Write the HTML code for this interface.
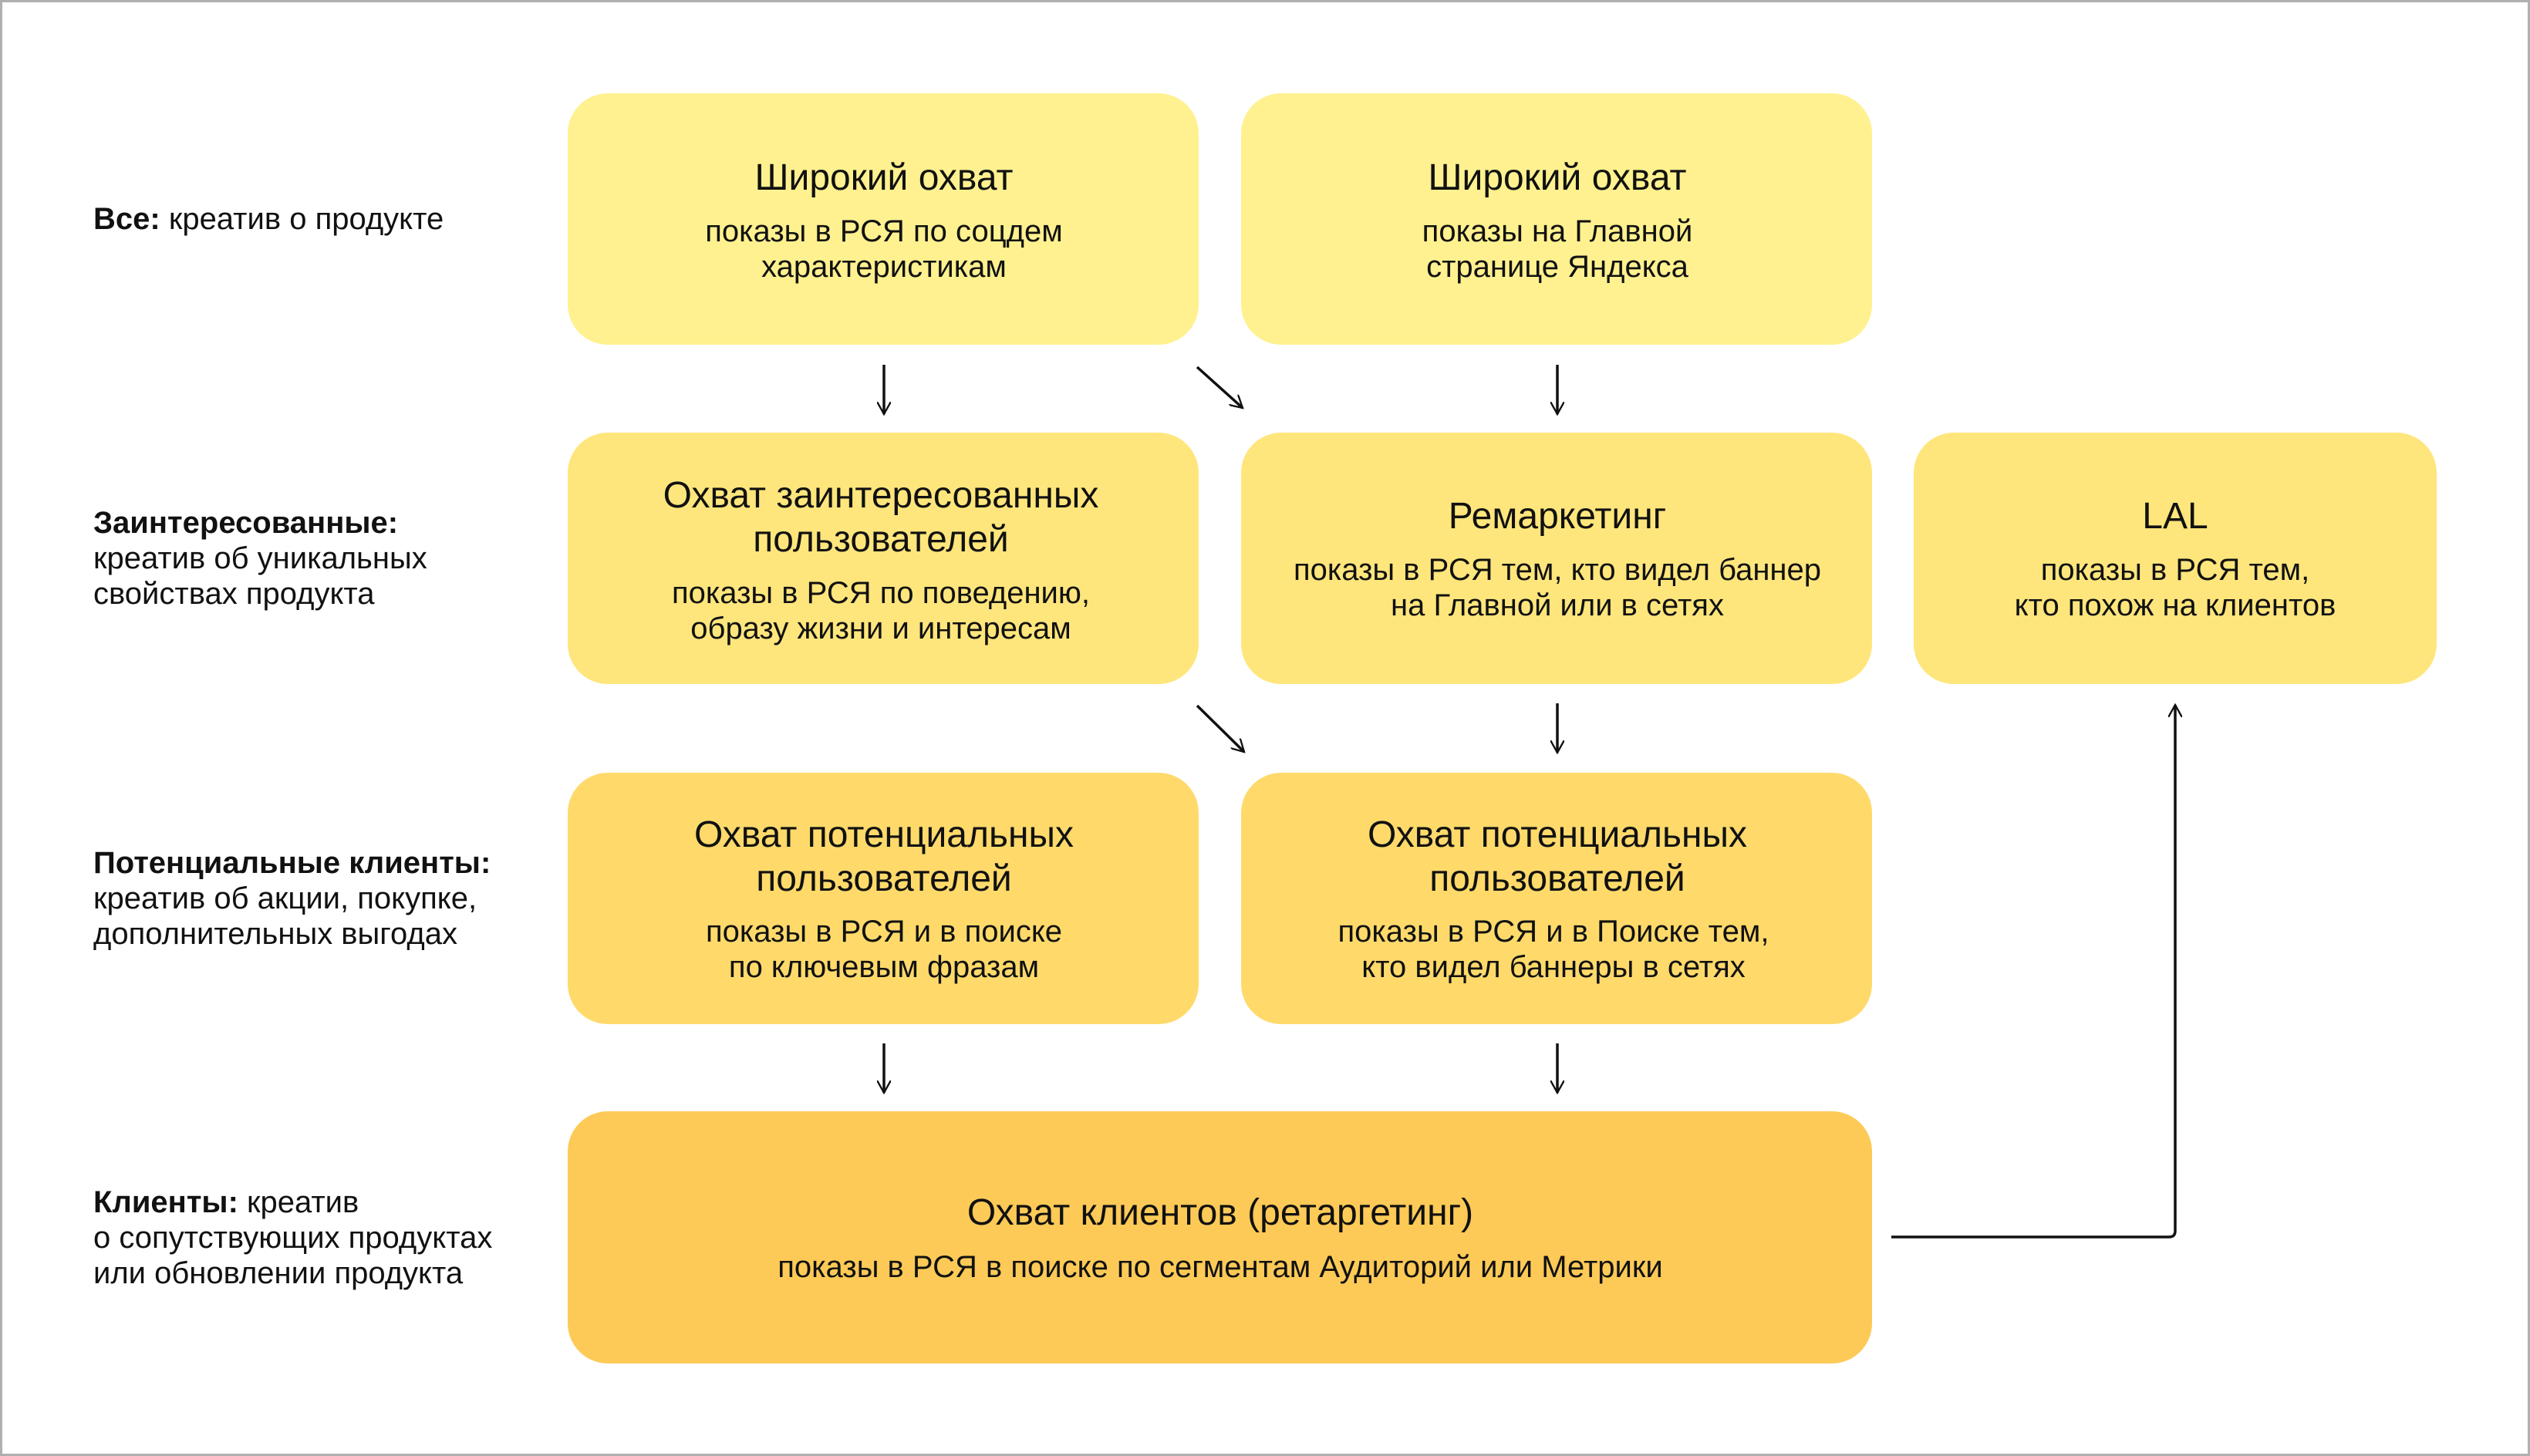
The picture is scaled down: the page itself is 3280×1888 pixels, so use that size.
<!DOCTYPE html>
<html><head><meta charset="utf-8"><style>
html,body{margin:0;padding:0;background:#fff}
svg{display:block}
text{font-family:"Liberation Sans",Arial,sans-serif;fill:#111}
.t{font-size:48px;text-anchor:middle}
.s{font-size:40px;text-anchor:middle}
.l{font-size:40px}
.b{font-weight:bold}
</style></head><body>
<svg width="3280" height="1888" viewBox="0 0 3280 1888" xmlns="http://www.w3.org/2000/svg">
<rect x="1.5" y="1.5" width="3277" height="1885" fill="#fff" stroke="#b0b0b0" stroke-width="3"/>
<defs><marker id="ah" viewBox="0 0 10 10" refX="9" refY="5" markerWidth="18" markerHeight="18" markerUnits="userSpaceOnUse" orient="auto"><path d="M0,0 L9,5 L0,10" fill="none" stroke="#111" stroke-width="1.3"/></marker></defs>

<rect x="736" y="121" width="818" height="326" rx="52" fill="#FFF18F"/>
<rect x="1609" y="121" width="818" height="326" rx="52" fill="#FFF18F"/>
<rect x="736" y="561" width="818" height="326" rx="52" fill="#FFE67C"/>
<rect x="1609" y="561" width="818" height="326" rx="52" fill="#FFE67C"/>
<rect x="2481" y="561" width="678" height="326" rx="52" fill="#FFE67C"/>
<rect x="736" y="1002" width="818" height="326" rx="52" fill="#FFDA6B"/>
<rect x="1609" y="1002" width="818" height="326" rx="52" fill="#FFDA6B"/>
<rect x="736" y="1441" width="1691" height="327" rx="52" fill="#FDCA57"/>

<g stroke="#111" stroke-width="3.5" fill="none" marker-end="url(#ah)">
<line x1="1146" y1="473" x2="1146" y2="537"/>
<line x1="2019" y1="473" x2="2019" y2="537"/>
<line x1="1552" y1="476" x2="1611" y2="529"/>
<line x1="1552" y1="915" x2="1613" y2="975"/>
<line x1="2019" y1="912" x2="2019" y2="976"/>
<line x1="1146" y1="1353" x2="1146" y2="1417"/>
<line x1="2019" y1="1353" x2="2019" y2="1417"/>
<path d="M2452,1604 H2812 Q2820,1604 2820,1596 V914"/>
</g>

<text class="t" x="1146" y="246">Широкий охват</text>
<text class="s" x="1146" y="313">показы в РСЯ по соцдем</text>
<text class="s" x="1146" y="359">характеристикам</text>

<text class="t" x="2019" y="246">Широкий охват</text>
<text class="s" x="2019" y="313">показы на Главной</text>
<text class="s" x="2019" y="359">странице Яндекса</text>

<text class="t" x="1142" y="658">Охват заинтересованных</text>
<text class="t" x="1142" y="715">пользователей</text>
<text class="s" x="1142" y="782">показы в РСЯ по поведению,</text>
<text class="s" x="1142" y="828">образу жизни и интересам</text>

<text class="t" x="2019" y="685">Ремаркетинг</text>
<text class="s" x="2019" y="752">показы в РСЯ тем, кто видел баннер</text>
<text class="s" x="2019" y="798">на Главной или в сетях</text>

<text class="t" x="2820" y="685">LAL</text>
<text class="s" x="2820" y="752">показы в РСЯ тем,</text>
<text class="s" x="2820" y="798">кто похож на клиентов</text>

<text class="t" x="1146" y="1098">Охват потенциальных</text>
<text class="t" x="1146" y="1155">пользователей</text>
<text class="s" x="1146" y="1221">показы в РСЯ и в поиске</text>
<text class="s" x="1146" y="1267">по ключевым фразам</text>

<text class="t" x="2019" y="1098">Охват потенциальных</text>
<text class="t" x="2019" y="1155">пользователей</text>
<text class="s" x="2014" y="1221">показы в РСЯ и  в Поиске тем,</text>
<text class="s" x="2014" y="1267">кто видел баннеры в сетях</text>

<text class="t" x="1582" y="1588">Охват клиентов (ретаргетинг)</text>
<text class="s" x="1582" y="1656">показы в РСЯ  в поиске по сегментам Аудиторий или Метрики</text>

<text class="l" x="121" y="297"><tspan class="b">Все:</tspan> креатив о продукте</text>
<text class="l" x="121" y="691"><tspan class="b">Заинтересованные:</tspan></text>
<text class="l" x="121" y="737">креатив об уникальных</text>
<text class="l" x="121" y="783">свойствах продукта</text>
<text class="l" x="121" y="1132"><tspan class="b">Потенциальные клиенты:</tspan></text>
<text class="l" x="121" y="1178">креатив об акции, покупке,</text>
<text class="l" x="121" y="1224">дополнительных выгодах</text>
<text class="l" x="121" y="1572"><tspan class="b">Клиенты:</tspan> креатив</text>
<text class="l" x="121" y="1618">о сопутствующих продуктах</text>
<text class="l" x="121" y="1664">или обновлении продукта</text>
</svg>
</body></html>
